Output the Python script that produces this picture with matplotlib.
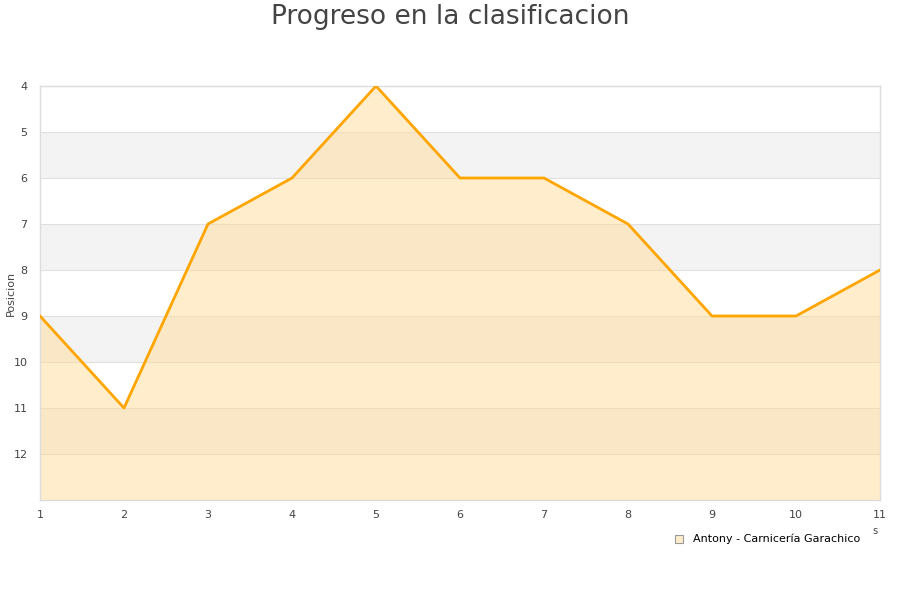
import matplotlib
matplotlib.use("Agg")
import matplotlib.pyplot as plt

jornadas = [1, 2, 3, 4, 5, 6, 7, 8, 9, 10, 11]
posiciones = [9, 11, 7, 6, 4, 6, 6, 7, 9, 9, 8]
serie = "Antony - Carnicería Garachico"
y_ticks = [4, 5, 6, 7, 8, 9, 10, 11, 12]

fig = plt.figure(figsize=(9, 6), dpi=100)
ax = fig.add_axes([40/900, 100/600, 840/900, 414/600])

ymin, ymax = 4, 13
for b in [5, 7, 9, 11]:
    ax.axhspan(b, b + 1, color="#f3f3f3", zorder=0, lw=0)
for t in range(4, 13):
    ax.axhline(t, color="#e0e0e0", lw=0.8, zorder=1)

ax.fill_between(jornadas, posiciones, ymax, color="#ffdd99", alpha=0.5, zorder=2, lw=0)
ax.plot(jornadas, posiciones, color="#ffa500", lw=2, zorder=3)

ax.set_xlim(1, 11)
ax.set_ylim(ymax, ymin)
ax.set_xticks(jornadas)
ax.set_yticks(y_ticks)
ax.tick_params(length=0, labelsize=8, colors="#444444")
ax.tick_params(axis="x", pad=7)
ax.tick_params(axis="y", pad=9)
for s in ax.spines.values():
    s.set_color("#dddddd")
    s.set_linewidth(1)

fig.text(11/900, 1 - 293/600, "Posicion", rotation=90, ha="center", va="center",
         fontsize=8, color="#444444")
fig.text(0.5, 1 - 17/600, "Progreso en la clasificacion", ha="center", va="center",
         fontsize=19, color="#444444")
fig.text(875/900, 1 - 531/600, "s", ha="center", va="center", fontsize=7, color="#444444")

fig.patches.append(plt.Rectangle((675/900, 1 - 543/600), 8/900, 8/600,
                                 transform=fig.transFigure, facecolor="#ffeecc",
                                 edgecolor="#999999", lw=0.8))
fig.text(693/900, 1 - 539/600, serie, ha="left", va="center", fontsize=8, color="#000000")

fig.savefig("out.png", dpi=100)
